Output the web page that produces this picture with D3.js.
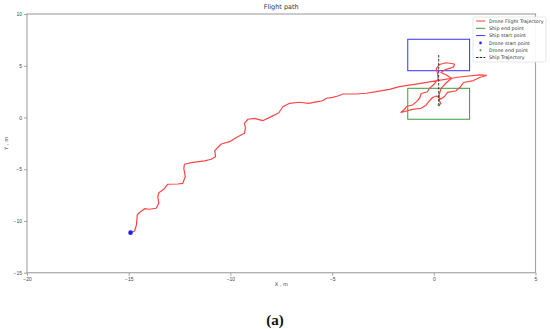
<!DOCTYPE html>
<html lang="en">
<head>
<meta charset="utf-8">
<title>Flight path</title>
<script src="https://d3js.org/d3.v7.min.js"></script>
<style>
  body { margin: 0; background: #fff; }
  svg { display: block; font-family: "DejaVu Sans", sans-serif; }
  .tick text { fill: #444; font-size: 5px; }
  .caption { font-family: "Liberation Serif", "DejaVu Serif", serif; font-weight: bold; font-size: 15px; }
</style>
</head>
<body>
<svg width="550" height="329"></svg>
<script>
// drone flight trajectory (x, y in metres)
var droneX = [-14.91,-14.71,-14.62,-14.58,-14.42,-14.22,-13.98,-13.65,-13.52,-13.57,-13.52,-13.27,-13.08,-12.59,-12.34,-12.22,-12.29,-12.26,-11.93,-11.27,
  -10.94,-10.73,-10.77,-10.45,-10.04,-9.64,-9.31,-9.26,-9.31,-9.14,-8.82,-8.41,-7.99,-7.62,-7.42,-7.09,-6.60,-6.15,-5.78,-5.46,
  -5.29,-4.97,-4.72,-4.47,-3.82,-3.32,-2.83,-2.18,-1.69,-0.80,0.18,1.26,2.25,2.59,2.25,1.95,1.46,1.31,1.07,0.67,
  0.53,0.35,0.13,-0.06,-0.21,-0.37,-0.62,-1.05,-1.61,-1.44,-1.34,-1.05,-0.85,-0.70,-0.62,-0.31,-0.21,0.03,0.21,0.18,
  0.12,0.28,0.61,1.02,0.97,0.77,0.53,0.35,0.62,0.87,0.60,0.36,0.26,0.28,0.35,0.25];
var droneY = [-11.13,-10.97,-10.39,-9.42,-9.10,-8.81,-8.87,-8.77,-8.29,-7.65,-7.27,-6.94,-6.45,-6.43,-6.36,-5.72,-4.91,-4.52,-4.37,-4.20,
  -4.04,-3.79,-3.21,-2.56,-2.34,-1.86,-1.53,-1.04,-0.56,-0.17,-0.08,-0.31,0.08,0.46,1.04,1.37,1.47,1.37,1.50,1.62,
  1.86,1.95,2.08,2.27,2.27,2.34,2.49,2.72,2.98,3.24,3.57,3.91,4.11,4.06,3.86,3.57,3.38,2.95,2.56,2.42,
  2.03,1.79,2.08,1.93,1.62,1.21,0.89,0.79,0.48,0.79,1.06,1.21,1.53,1.86,2.32,2.49,2.82,3.24,3.72,4.30,
  4.73,5.12,5.29,5.17,4.88,4.75,4.59,4.35,4.11,3.77,3.33,2.82,2.17,1.55,1.35,1.21];

// ship trajectory and ship boxes
var shipX = [0.24, 0.24, 0.24, 0.24];
var shipY = [6.04, 4.5, 2.9, 1.25];
var shipStartBox = [-1.28, 4.52, 1.76, 7.56];   // x0, y0, x1, y1
var shipEndBox = [-1.28, -0.17, 1.76, 2.82];

var xTicks = [-20, -15, -10, -5, 0, 5];
var yTicks = [-15, -10, -5, 0, 5, 10];

var legendLabels = ["Drone Flight Trajectory", "Ship end point", "Ship start point",
  "Drone start point", "Drone end point", "Ship Trajectory"];

var svg = d3.select("svg");
var m = {left: 27, right: 535.5, top: 14, bottom: 272.7};

var x = d3.scaleLinear().domain([-20, 5]).range([m.left, m.right]);
var y = d3.scaleLinear().domain([-15, 10]).range([m.bottom, m.top]);

var minus = function(v) { return String(v).replace("-", "\u2212"); };

// axes
svg.append("g")
    .attr("transform", "translate(0," + m.bottom + ")")
    .call(d3.axisBottom(x).tickValues(xTicks).tickFormat(minus).tickSize(3).tickPadding(2));
svg.append("g")
    .attr("transform", "translate(" + m.left + ",0)")
    .call(d3.axisLeft(y).tickValues(yTicks).tickFormat(minus).tickSize(3).tickPadding(2));
svg.selectAll(".domain").remove();
svg.selectAll(".tick line").attr("stroke", "#888").attr("stroke-width", 0.8);

// frame
svg.append("rect")
    .attr("x", m.left).attr("y", m.top)
    .attr("width", m.right - m.left).attr("height", m.bottom - m.top)
    .attr("fill", "none").attr("stroke", "#a8a8a8").attr("stroke-width", 1.2);

// ship boxes
function box(b, col) {
  svg.append("rect")
      .attr("x", x(b[0])).attr("y", y(b[3]))
      .attr("width", x(b[2]) - x(b[0])).attr("height", y(b[1]) - y(b[3]))
      .attr("fill", "none").attr("stroke", col).attr("stroke-width", 1);
}
box(shipEndBox, "#3a9a3a");
box(shipStartBox, "#3333ff");

var line = d3.line().x(function(d) { return x(d[0]); }).y(function(d) { return y(d[1]); });

// drone path
svg.append("path")
    .datum(d3.zip(droneX, droneY))
    .attr("d", line)
    .attr("fill", "none").attr("stroke", "#ff4545").attr("stroke-width", 1.2)
    .attr("stroke-linejoin", "round");

// ship path
svg.append("path")
    .datum(d3.zip(shipX, shipY))
    .attr("d", line)
    .attr("fill", "none").attr("stroke", "#222").attr("stroke-width", 0.9)
    .attr("stroke-dasharray", "2.5,1.5");

// start / end points
svg.append("circle")
    .attr("cx", x(droneX[0])).attr("cy", y(droneY[0])).attr("r", 2.3)
    .attr("fill", "#2020ee");
svg.append("circle")
    .attr("cx", x(droneX[droneX.length - 1])).attr("cy", y(droneY[droneY.length - 1])).attr("r", 1.3)
    .attr("fill", "#3a9a3a");

// titles
svg.append("text").attr("x", (m.left + m.right) / 2).attr("y", 9)
    .attr("text-anchor", "middle").attr("font-size", 6.5).attr("fill", "#333").text("Flight path");
svg.append("text").attr("x", (m.left + m.right) / 2).attr("y", 286)
    .attr("text-anchor", "middle").attr("font-size", 5).attr("fill", "#444").text("X , m");
svg.append("text").attr("transform", "translate(8," + ((m.top + m.bottom) / 2) + ") rotate(-90)")
    .attr("text-anchor", "middle").attr("font-size", 5).attr("fill", "#444").text("Y , m");

svg.append("text").attr("class", "caption").attr("x", 275).attr("y", 325)
    .attr("text-anchor", "middle").attr("fill", "#111").text("(a)");

// legend
var lg = svg.append("g").attr("transform", "translate(473,17)");
lg.append("rect").attr("width", 73).attr("height", 45).attr("rx", 1.5)
    .attr("fill", "#fff").attr("fill-opacity", 0.9).attr("stroke", "#ddd").attr("stroke-width", 0.7);
var kinds = ["line", "line", "line", "dot", "dot", "dash"];
var cols = ["#ff4545", "#3a9a3a", "#3333ff", "#2020ee", "#3a9a3a", "#222"];
legendLabels.forEach(function(lab, i) {
  var yy = 4 + i * 7.3;
  if (kinds[i] === "dot") {
    lg.append("circle").attr("cx", 7.5).attr("cy", yy).attr("r", i === 3 ? 1.3 : 1).attr("fill", cols[i]);
  } else {
    lg.append("line").attr("x1", 3).attr("x2", 12.3).attr("y1", yy).attr("y2", yy)
        .attr("stroke", cols[i]).attr("stroke-width", 1)
        .attr("stroke-dasharray", kinds[i] === "dash" ? "2.5,1.2" : null);
  }
  lg.append("text").attr("x", 16).attr("y", yy + 1.7)
      .attr("font-size", 4.8).attr("fill", "#333").text(lab);
});
</script>
</body>
</html>
